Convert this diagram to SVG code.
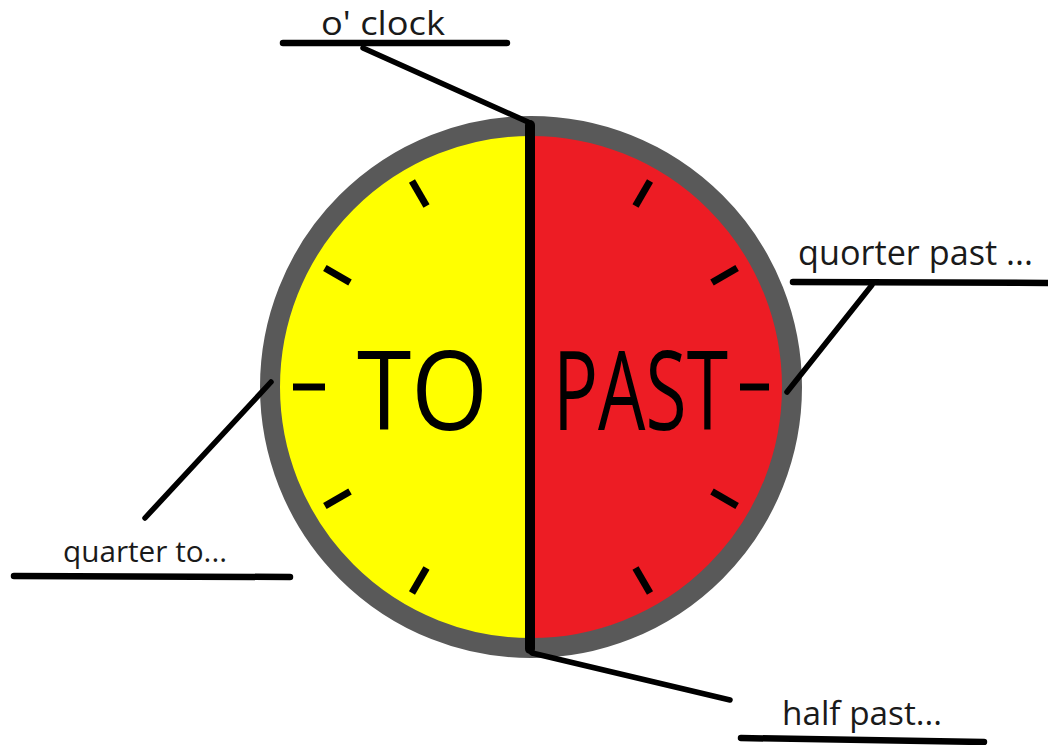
<svg xmlns="http://www.w3.org/2000/svg" width="1048" height="745" viewBox="0 0 1048 745">
  <style>
    .lbl { font-family: "Open Sans", "Noto Sans", "Liberation Sans", sans-serif; fill: #1a1a1a; }
    .big { font-family: "Open Sans", "Noto Sans", "Liberation Sans", sans-serif; font-size: 110px; fill: #000; }
    .ul { stroke: #000; stroke-width: 6.5; stroke-linecap: round; fill: none; }
    .conn { stroke: #000; stroke-width: 5.5; stroke-linecap: round; fill: none; }
    .tick { stroke: #000; stroke-width: 7; stroke-linecap: butt; }
  </style>
  <rect width="1048" height="745" fill="#fff"/>

  <g id="clock">
    <clipPath id="cl"><circle cx="531" cy="387" r="252"/></clipPath>
    <g clip-path="url(#cl)">
      <rect x="270" y="120" width="261" height="540" fill="#ffff00"/>
      <rect x="531" y="120" width="270" height="540" fill="#ed1c24"/>
    </g>
    <circle cx="531" cy="387" r="261" fill="none" stroke="#595959" stroke-width="20"/>
    <g id="ticks">
      <g transform="translate(531 387)">
        <line class="tick" x1="0" y1="-209" x2="0" y2="-238" transform="rotate(30)"/>
        <line class="tick" x1="0" y1="-209" x2="0" y2="-238" transform="rotate(60)"/>
        <line class="tick" x1="0" y1="-209" x2="0" y2="-238" transform="rotate(90)"/>
        <line class="tick" x1="0" y1="-209" x2="0" y2="-238" transform="rotate(120)"/>
        <line class="tick" x1="0" y1="-209" x2="0" y2="-238" transform="rotate(150)"/>
        <line class="tick" x1="0" y1="-209" x2="0" y2="-238" transform="rotate(210)"/>
        <line class="tick" x1="0" y1="-209" x2="0" y2="-238" transform="rotate(240)"/>
        <line class="tick" x1="0" y1="-206" x2="0" y2="-238" transform="rotate(270)"/>
        <line class="tick" x1="0" y1="-209" x2="0" y2="-238" transform="rotate(300)"/>
        <line class="tick" x1="0" y1="-209" x2="0" y2="-238" transform="rotate(330)"/>
      </g>
    </g>
    <line x1="530" y1="125" x2="530" y2="649" stroke="#000" stroke-width="10" stroke-linecap="round"/>
    <text class="big" x="357" y="430" textLength="131" lengthAdjust="spacingAndGlyphs">TO</text>
    <text class="big" x="553" y="430" textLength="175" lengthAdjust="spacingAndGlyphs">PAST</text>
  </g>

  <g id="label-oclock">
    <text class="lbl" x="321" y="35" font-size="32" textLength="124" lengthAdjust="spacingAndGlyphs">o' clock</text>
    <line class="ul" x1="283" y1="43" x2="507" y2="43"/>
  </g>
  <g id="label-quarter-past">
    <text class="lbl" x="798" y="265" font-size="34" textLength="235" lengthAdjust="spacingAndGlyphs">quorter past ...</text>
    <line class="ul" x1="793" y1="282" x2="1052" y2="283"/>
  </g>
  <g id="label-quarter-to">
    <text class="lbl" x="63" y="562" font-size="30" textLength="164" lengthAdjust="spacingAndGlyphs">quarter to...</text>
    <line class="ul" x1="14" y1="576" x2="290" y2="577"/>
  </g>
  <g id="label-half-past">
    <text class="lbl" x="782" y="725" font-size="33" textLength="160" lengthAdjust="spacingAndGlyphs">half past...</text>
    <line class="ul" x1="741" y1="738" x2="984" y2="742"/>
  </g>

  <g id="connectors">
    <line class="conn" x1="363" y1="48" x2="528" y2="122"/>
    <line class="conn" x1="872" y1="285" x2="787" y2="392"/>
    <line class="conn" x1="145" y1="518" x2="271" y2="382"/>
    <line class="conn" x1="532" y1="653" x2="730" y2="700"/>
  </g>
</svg>
